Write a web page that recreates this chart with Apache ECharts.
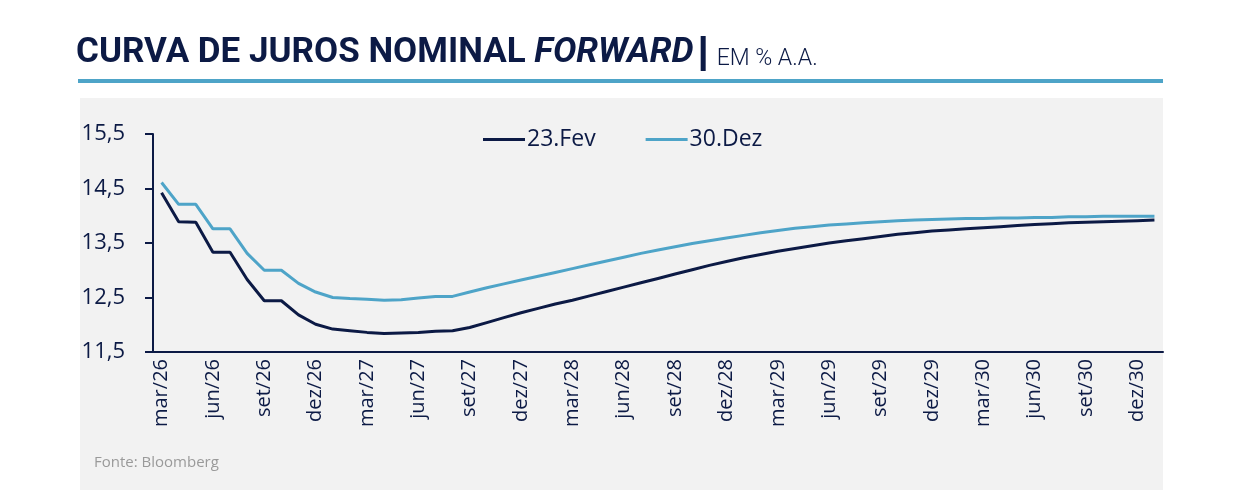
<!DOCTYPE html>
<html>
<head>
<meta charset="utf-8">
<script src="https://cdn.jsdelivr.net/npm/echarts@6/dist/echarts.min.js"></script>
<style>
  html, body { margin: 0; padding: 0; background: #ffffff; }
  #chart { width: 1240px; height: 490px; }
</style>
</head>
<body>
<div id="chart"></div>
<script>
// ---- Data ----
const categories = [
  'mar/26','abr/26','mai/26','jun/26','jul/26','ago/26','set/26','out/26','nov/26','dez/26',
  'jan/27','fev/27','mar/27','abr/27','mai/27','jun/27','jul/27','ago/27','set/27','out/27','nov/27','dez/27',
  'jan/28','fev/28','mar/28','abr/28','mai/28','jun/28','jul/28','ago/28','set/28','out/28','nov/28','dez/28',
  'jan/29','fev/29','mar/29','abr/29','mai/29','jun/29','jul/29','ago/29','set/29','out/29','nov/29','dez/29',
  'jan/30','fev/30','mar/30','abr/30','mai/30','jun/30','jul/30','ago/30','set/30','out/30','nov/30','dez/30',
  'jan/31'
];
const fev23 = [
  14.42, 13.89, 13.88, 13.33, 13.33, 12.83, 12.44, 12.44, 12.18, 12.01,
  11.92, 11.89, 11.86, 11.84, 11.85, 11.86, 11.88, 11.89, 11.95, 12.04,
  12.13, 12.22, 12.30, 12.38, 12.45, 12.53, 12.61, 12.69, 12.77, 12.85,
  12.93, 13.01, 13.09, 13.16, 13.23, 13.29, 13.35, 13.40, 13.45, 13.50,
  13.54, 13.58, 13.62, 13.66, 13.69, 13.72, 13.74, 13.76, 13.78, 13.80,
  13.82, 13.84, 13.855, 13.87, 13.88, 13.89, 13.90, 13.91, 13.92
];
const dez30 = [
  14.61, 14.21, 14.21, 13.76, 13.76, 13.31, 13.00, 13.00, 12.76, 12.60,
  12.50, 12.48, 12.47, 12.45, 12.46, 12.49, 12.52, 12.52, 12.60, 12.68,
  12.75, 12.82, 12.89, 12.96, 13.03, 13.10, 13.17, 13.24, 13.31, 13.37,
  13.43, 13.49, 13.54, 13.59, 13.64, 13.69, 13.73, 13.77, 13.80, 13.83,
  13.85, 13.87, 13.89, 13.91, 13.92, 13.93, 13.94, 13.95, 13.95, 13.96,
  13.96, 13.97, 13.97, 13.98, 13.98, 13.99, 13.99, 13.99, 13.99
];
const yTicks = [11.5, 12.5, 13.5, 14.5, 15.5];
const seriesNames = ['23.Fev', '30.Dez'];

// ---- Styles ----
const NAVY = '#0c1a45';
const LIGHT = '#4ea4c8';
const FONT = 'Open Sans';

const chart = echarts.init(document.getElementById('chart'), null, { renderer: 'canvas' });

chart.setOption({
  backgroundColor: '#ffffff',
  animation: false,
  graphic: [
    { type: 'rect', z: -10, shape: { x: 80, y: 98, width: 1083, height: 392 }, style: { fill: '#f2f2f2' } },
    { type: 'rect', z: -10, shape: { x: 78, y: 79, width: 1085, height: 4 }, style: { fill: LIGHT } },
    { type: 'text', left: 94, top: 455, style: { text: 'Fonte: Bloomberg', fill: '#9a9a9a', font: '15px "Open Sans"' } }
  ],
  title: {
    left: 76,
    top: 31,
    padding: 0,
    text: '{b|CURVA DE JUROS NOMINAL }{i|FORWARD}{sp1| }{bar| }{sp2| }{s|EM % A.A.}',
    textStyle: {
      rich: {
        b: { fontFamily: 'Roboto', fontWeight: 'bold', fontSize: 35, color: NAVY, lineHeight: 40, verticalAlign: 'bottom' },
        i: { fontFamily: 'Roboto', fontWeight: 'bold', fontStyle: 'italic', fontSize: 35, color: NAVY, lineHeight: 40, verticalAlign: 'bottom' },
        sp1: { width: 7, fontSize: 10, lineHeight: 40 },
        bar: { width: 5, height: 35, backgroundColor: NAVY, fontSize: 10, verticalAlign: 'bottom' },
        sp2: { width: 11, fontSize: 10, lineHeight: 40 },
        s: { fontFamily: 'Roboto', fontWeight: 300, fontSize: 23, color: NAVY, lineHeight: 32, verticalAlign: 'bottom' }
      }
    }
  },
  legend: {
    data: seriesNames,
    icon: 'rect',
    left: 483,
    top: 128,
    padding: 0,
    itemWidth: 42,
    itemHeight: 3,
    itemGap: 50,
    textStyle: { fontFamily: FONT, fontSize: 23, color: NAVY, padding: [0, 0, 0, -3] }
  },
  grid: { left: 153, right: 77, top: 134, bottom: 138, containLabel: false },
  xAxis: {
    type: 'category',
    data: categories,
    boundaryGap: true,
    axisLine: { lineStyle: { color: NAVY, width: 2 } },
    axisTick: { interval: 2, length: 8, lineStyle: { color: NAVY, width: 2 } },
    axisLabel: {
      interval: 2,
      rotate: 90,
      margin: 7,
      fontFamily: FONT,
      fontSize: 20,
      color: NAVY
    },
    splitLine: { show: false }
  },
  yAxis: {
    type: 'value',
    min: 11.5,
    max: 15.5,
    axisLine: { show: true, lineStyle: { color: NAVY, width: 2 } },
    axisTick: { show: true, length: 8, customValues: yTicks, lineStyle: { color: NAVY, width: 2 } },
    axisLabel: {
      customValues: yTicks,
      margin: 28,
      fontFamily: FONT,
      fontSize: 22,
      color: NAVY,
      formatter: v => v.toFixed(1).replace('.', ',')
    },
    splitLine: { show: false }
  },
  series: [
    {
      name: seriesNames[0],
      type: 'line',
      data: fev23,
      symbol: 'none',
      smooth: false,
      lineStyle: { color: NAVY, width: 3 },
      itemStyle: { color: NAVY }
    },
    {
      name: seriesNames[1],
      type: 'line',
      data: dez30,
      symbol: 'none',
      smooth: false,
      lineStyle: { color: LIGHT, width: 3 },
      itemStyle: { color: LIGHT }
    }
  ]
});
</script>
</body>
</html>
